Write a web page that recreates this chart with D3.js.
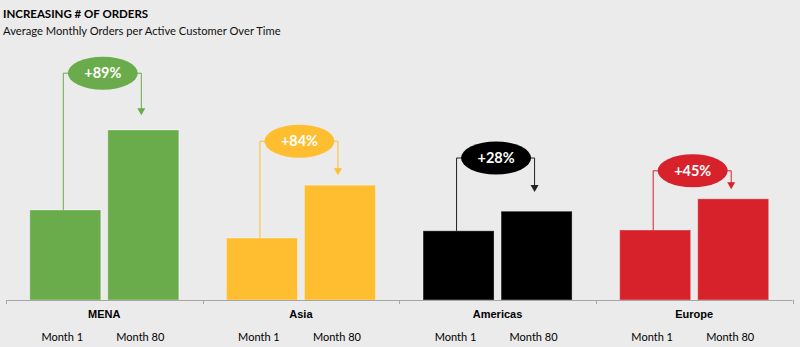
<!DOCTYPE html>
<html>
<head>
<meta charset="utf-8">
<script src="https://cdn.jsdelivr.net/npm/d3@7"></script>
<style>
  body { margin: 0; background: #ebebeb; }
  svg { display: block; }
</style>
</head>
<body>
<div class="canvas"></div>
<script>
var w = 800;
var h = 347;

// data
var regions = ["MENA", "Asia", "Americas", "Europe"];
var periods = ["Month 1", "Month 80"];
var month1 = [2.25, 1.55, 1.73, 1.75];
var month80 = [4.25, 2.87, 2.22, 2.53];
var changeLabels = ["+89%", "+84%", "+28%", "+45%"];
var regionColors = ["#6aab4b", "#febe2f", "#000000", "#d7222b"];
// where each callout sits and where its arrow stops, in chart units
var calloutLevel = [5.67, 3.97, 3.55, 3.23];
var arrowEnd = [4.62, 3.12, 2.7, 2.77];

var svg = d3.select(".canvas").append("svg")
    .attr("width", w)
    .attr("height", h);

var x0 = d3.scaleBand()
    .domain(regions)
    .range([6, 792.5])
    .paddingInner(0)
    .paddingOuter(0);

var x1 = d3.scaleBand()
    .domain(periods)
    .range([0, x0.bandwidth()])
    .paddingInner(0.09)
    .paddingOuter(0.305);

var y = d3.scaleLinear()
    .domain([0, 5])
    .range([300, 100]);

// title
svg.append("text")
    .attr("x", 3)
    .attr("y", 18)
    .style("font-family", "Lato, 'Open Sans', sans-serif")
    .style("font-weight", "bold")
    .style("font-size", "11.5px")
    .style("fill", "#000")
    .text("INCREASING # OF ORDERS");

svg.append("text")
    .attr("x", 3)
    .attr("y", 35)
    .style("font-family", "Lato, 'Open Sans', sans-serif")
    .style("font-size", "11.2px")
    .style("fill", "#111")
    .text("Average Monthly Orders per Active Customer Over Time");

var groups = svg.selectAll("g.region")
    .data(regions)
    .enter().append("g")
    .attr("class", "region")
    .attr("transform", function(d) { return "translate(" + x0(d) + ",0)"; });

groups.each(function(d, i) {
    var g = d3.select(this);
    var vals = [month1[i], month80[i]];
    var col = regionColors[i];

    g.selectAll("rect")
        .data(vals)
        .enter().append("rect")
        .attr("x", function(v, j) { return x1(periods[j]); })
        .attr("y", function(v) { return y(v); })
        .attr("width", x1.bandwidth())
        .attr("height", function(v) { return y(0) - y(v); })
        .attr("fill", col)
        .attr("stroke", "rgba(255,255,255,0.35)")
        .attr("stroke-width", 1);

    // bracket connector
    var xa = x1(periods[0]) + x1.bandwidth() / 2 - 2;
    var xb = x1(periods[1]) + x1.bandwidth() / 2 - 2;
    var yc = y(calloutLevel[i]);
    var ye = y(arrowEnd[i]);
    var lineCol = i == 2 ? "#222" : col;

    g.append("path")
        .attr("d", "M" + xa + "," + y(vals[0]) + "V" + yc + "H" + xb + "V" + (ye - 5))
        .attr("fill", "none")
        .attr("stroke", lineCol)
        .attr("stroke-width", 1);

    g.append("path")
        .attr("d", "M" + (xb - 4) + "," + (ye - 7) + "L" + (xb + 4) + "," + (ye - 7) + "L" + xb + "," + ye + "Z")
        .attr("fill", lineCol);

    var cx = x0.bandwidth() / 2 - 1.5;
    g.append("ellipse")
        .attr("cx", cx)
        .attr("cy", yc)
        .attr("rx", 35)
        .attr("ry", 16.5)
        .attr("fill", col);

    g.append("text")
        .attr("x", cx)
        .attr("y", yc + 5)
        .attr("text-anchor", "middle")
        .style("font-family", "Lato, 'Open Sans', sans-serif")
        .style("font-weight", "bold")
        .style("font-size", "14.5px")
        .style("fill", "#fff")
        .text(changeLabels[i]);

    // category label
    g.append("text")
        .attr("x", x0.bandwidth() / 2)
        .attr("y", 318)
        .attr("text-anchor", "middle")
        .style("font-family", "'Liberation Sans', Arial, sans-serif")
        .style("font-weight", "bold")
        .style("font-size", "11px")
        .style("fill", "#000")
        .text(d);

    g.selectAll("text.period")
        .data(periods)
        .enter().append("text")
        .attr("class", "period")
        .attr("x", function(p) { return x1(p) + x1.bandwidth() / 2 - 3; })
        .attr("y", 341)
        .attr("text-anchor", "middle")
        .style("font-family", "Lato, 'Open Sans', sans-serif")
        .style("font-size", "11px")
        .style("fill", "#000")
        .text(function(p) { return p; });
});

// axis baseline with ticks at category borders
svg.append("line")
    .attr("x1", 6)
    .attr("x2", 792.5)
    .attr("y1", y(0) + 0.5)
    .attr("y2", y(0) + 0.5)
    .attr("stroke", "#a6a6a6")
    .attr("stroke-width", 1);

var borders = regions.map(function(r) { return x0(r); }).concat([x0.range()[1]]);
svg.selectAll("line.tick")
    .data(borders)
    .enter().append("line")
    .attr("class", "tick")
    .attr("x1", function(d) { return Math.round(d) + 0.5; })
    .attr("x2", function(d) { return Math.round(d) + 0.5; })
    .attr("y1", y(0))
    .attr("y2", y(0) + 4)
    .attr("stroke", "#a6a6a6");
</script>
</body>
</html>
